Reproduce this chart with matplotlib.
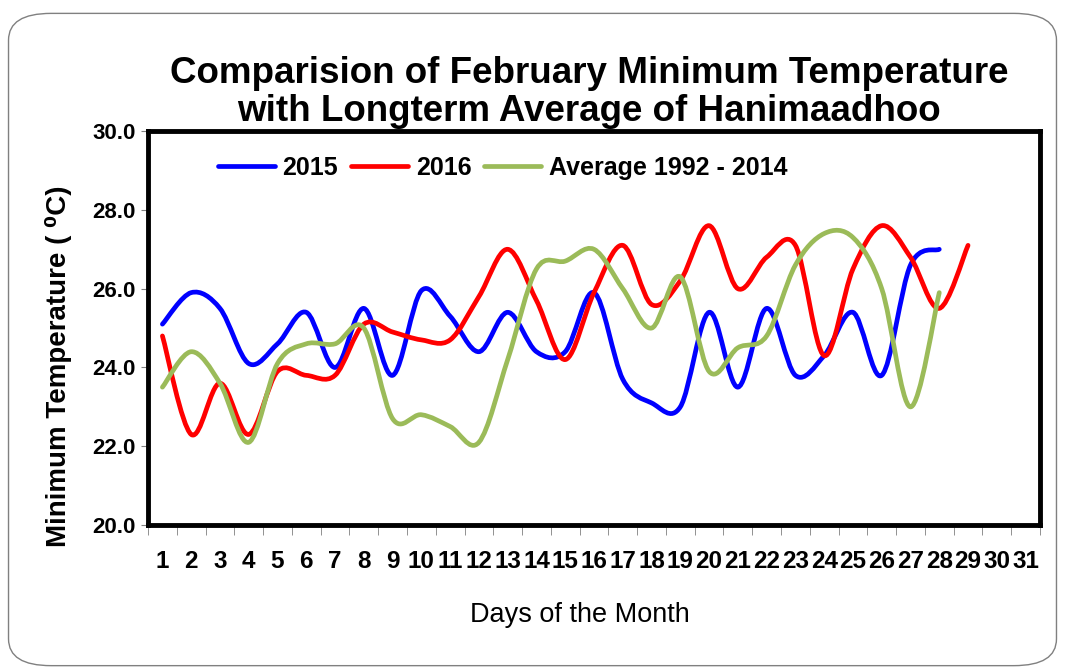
import matplotlib
matplotlib.use("Agg")
import matplotlib.pyplot as plt
from matplotlib.path import Path
from matplotlib.patches import PathPatch, FancyBboxPatch
from matplotlib.lines import Line2D

plt.rcParams['font.family'] = ['Liberation Sans', 'DejaVu Sans']

# 数据
days = list(range(1, 32))
day_labels = [str(d) for d in days]
t2015 = [25.1, 25.9, 25.5, 24.1, 24.6, 25.4, 24.0, 25.5, 23.8, 25.95,
         25.3, 24.4, 25.4, 24.4, 24.4, 25.9, 23.7, 23.1, 23.0, 25.4,
         23.5, 25.5, 23.8, 24.3, 25.4, 23.8, 26.6, 27.0]
t2016 = [24.8, 22.3, 23.6, 22.3, 23.9, 23.8, 23.8, 25.1, 24.9, 24.7,
         24.7, 25.8, 27.0, 25.7, 24.2, 25.9, 27.1, 25.6, 26.2, 27.6,
         26.0, 26.8, 27.1, 24.3, 26.5, 27.6, 26.8, 25.5, 27.1]
t_avg = [23.5, 24.4, 23.6, 22.1, 24.1, 24.6, 24.6, 25.0, 22.7, 22.8,
         22.5, 22.1, 24.2, 26.5, 26.7, 27.0, 26.0, 25.0, 26.3, 23.9,
         24.5, 24.8, 26.6, 27.4, 27.3, 26.0, 23.0, 25.9]
series = [("2015", t2015, "#0000FF"),
          ("2016", t2016, "#FF0000"),
          ("Average 1992 - 2014", t_avg, "#9BBB59")]


def smooth_path(xs, ys):
    # 类似Excel平滑线：Catmull-Rom转成三次贝塞尔
    pts = list(zip(xs, ys))
    n = len(pts)
    verts = [pts[0]]
    codes = [Path.MOVETO]
    for i in range(n - 1):
        p0 = pts[i - 1] if i > 0 else pts[i]
        p1 = pts[i]
        p2 = pts[i + 1]
        p3 = pts[i + 2] if i + 2 < n else pts[i + 1]
        c1 = (p1[0] + (p2[0] - p0[0]) / 6, p1[1] + (p2[1] - p0[1]) / 6)
        c2 = (p2[0] - (p3[0] - p1[0]) / 6, p2[1] - (p3[1] - p1[1]) / 6)
        verts += [c1, c2, p2]
        codes += [Path.CURVE4] * 3
    return Path(verts, codes)


fig = plt.figure(figsize=(10.65, 6.69), dpi=100)
ax = fig.add_axes([0.139, 0.2152, 0.8375, 0.5888])

# 外框（幻灯片圆角边框）
frame = FancyBboxPatch((0.008, 0.005), 0.984, 0.975, boxstyle="round,pad=0,rounding_size=0.04",
                       transform=fig.transFigure, fill=False, edgecolor="#808080", linewidth=1.0)
fig.patches.append(frame)

handles = []
for name, vals, col in series:
    xs = days[:len(vals)]
    patch = PathPatch(smooth_path(xs, vals), facecolor="none", edgecolor=col,
                      linewidth=3.4, capstyle="round", joinstyle="round")
    ax.add_patch(patch)
    handles.append(Line2D([], [], color=col, linewidth=3.4, solid_capstyle="round", label=name))

ax.set_xlim(0.5, 31.5)
ax.set_ylim(20, 30)
ax.set_yticks([20, 22, 24, 26, 28, 30])
ax.set_yticklabels(["20.0", "22.0", "24.0", "26.0", "28.0", "30.0"], fontsize=16, fontweight="bold")
ax.set_xticks(days)
ax.set_xticklabels(day_labels, fontsize=17.5, fontweight="bold")
ax.set_xticks([d + 0.5 for d in range(0, 32)], minor=True)
ax.tick_params(axis="x", which="major", length=0, pad=18)
ax.tick_params(axis="x", which="minor", length=7, color="#808080", direction="out")
ax.tick_params(axis="y", length=5, color="#808080", direction="out", pad=4)

for sp in ax.spines.values():
    sp.set_linewidth(3.5)
    sp.set_color("black")

ax.set_ylabel("Minimum Temperature ( \u2070C)", fontsize=20, fontweight="bold")
ax.yaxis.set_label_coords(-0.085, 0.404)
ax.set_xlabel("Days of the Month", fontsize=19.5)
ax.xaxis.set_label_coords(0.484, -0.195)

fig.text(0.553, 0.890, "Comparision of February Minimum Temperature", ha="center", va="center",
         fontsize=26.5, fontweight="bold")
fig.text(0.553, 0.833, "with Longterm Average of Hanimaadhoo", ha="center", va="center",
         fontsize=26.5, fontweight="bold")

ax.legend(handles=handles, ncol=3, loc="center left", bbox_to_anchor=(0.078, 0.906),
          frameon=False, borderaxespad=0, borderpad=0, handlelength=2.3, handletextpad=0.3,
          columnspacing=0.5, prop={"size": 18, "weight": "bold"})

fig.savefig("out.png", dpi=100)
